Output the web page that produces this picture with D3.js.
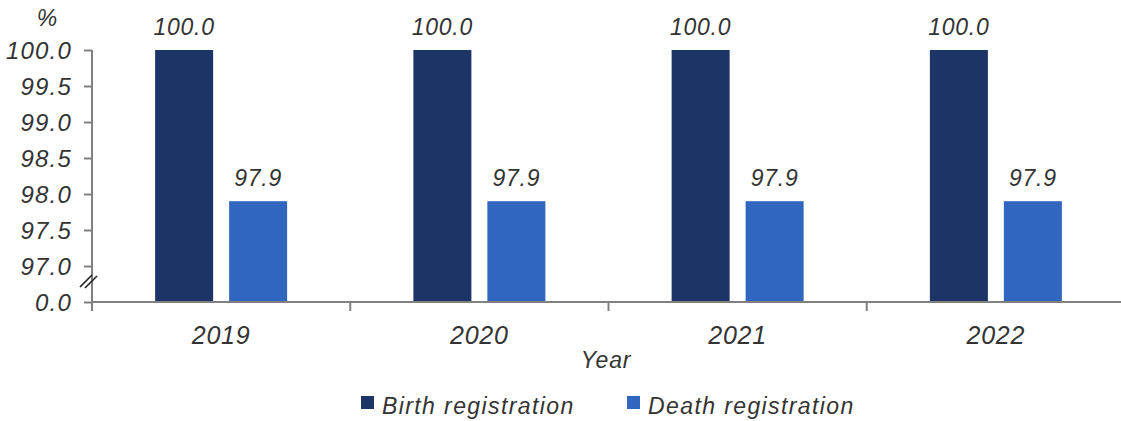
<!DOCTYPE html>
<html>
<head>
<meta charset="utf-8">
<script src="https://cdn.jsdelivr.net/npm/d3@7"></script>
<style>
  html, body { margin: 0; padding: 0; background: #fff; }
  svg text { font-family: "Liberation Sans", Arial, sans-serif; font-style: italic; fill: #333; }
</style>
</head>
<body>
<svg id="chart" width="1121" height="421"></svg>
<script>
const years = ["2019", "2020", "2021", "2022"];
const seriesNames = ["Birth registration", "Death registration"];
const birthValues = [100.0, 100.0, 100.0, 100.0];
const deathValues = [97.9, 97.9, 97.9, 97.9];
const yTickValues = [0, 97.0, 97.5, 98.0, 98.5, 99.0, 99.5, 100.0];
const colors = ["#1d3566", "#3066c0"];

const svg = d3.select("#chart");
const axisColor = "#808080";

// broken axis: 0 then 97..100
const y = d3.scaleLinear().domain([0, 97, 100]).range([302, 266, 50]);
const x0 = d3.scaleBand().domain(years).range([92, 1125]).paddingInner(0).paddingOuter(0);
const groupW = 132;
const off = (x0.bandwidth() - groupW) / 2;
const x1 = d3.scaleBand().domain(seriesNames).range([off, off + groupW]).paddingInner(0.216).paddingOuter(0);

const data = years.map((yr, i) => ({
  year: yr,
  values: [
    { name: seriesNames[0], value: birthValues[i], color: colors[0] },
    { name: seriesNames[1], value: deathValues[i], color: colors[1] }
  ]
}));

// bars
const groups = svg.append("g").selectAll("g").data(data).join("g")
  .attr("transform", d => `translate(${x0(d.year)},0)`);
groups.selectAll("rect").data(d => d.values).join("rect")
  .attr("x", d => x1(d.name))
  .attr("width", x1.bandwidth())
  .attr("y", d => y(d.value))
  .attr("height", d => y(0) - y(d.value))
  .attr("fill", d => d.color);

// value labels
groups.selectAll("text.val").data(d => d.values).join("text")
  .attr("class", "val")
  .attr("x", d => x1(d.name) + x1.bandwidth() / 2)
  .attr("y", d => y(d.value) - 15)
  .attr("text-anchor", "middle")
  .style("font-size", "23px")
  .style("letter-spacing", "0.7px")
  .text(d => d.value.toFixed(1));

// y axis
const yAxis = d3.axisLeft(y).tickValues(yTickValues).tickSize(8).tickPadding(12)
  .tickFormat(d3.format(".1f"));
const gy = svg.append("g").attr("transform", "translate(92,0)").call(yAxis);
gy.select(".domain").attr("stroke", axisColor).attr("stroke-width", 2).attr("d", `M0,${y(100)}V${y(0)}`);
gy.selectAll(".tick line").attr("stroke", axisColor).attr("stroke-width", 2);
gy.selectAll(".tick text").attr("fill", "#333").style("font-family", "Liberation Sans, Arial, sans-serif")
  .style("font-style", "italic").style("font-size", "24px").style("letter-spacing", "1.2px").attr("dy", "0.36em");

// break marks
const brk = svg.append("g").attr("stroke", "#222").attr("stroke-width", 1.6);
brk.append("line").attr("x1", 80).attr("y1", 287).attr("x2", 92).attr("y2", 275);
brk.append("line").attr("x1", 85).attr("y1", 288).attr("x2", 97).attr("y2", 276);

// x axis
const gx = svg.append("g").attr("transform", `translate(0,${y(0)})`);
gx.append("line").attr("x1", 92).attr("x2", 1121).attr("y1", 0).attr("y2", 0)
  .attr("stroke", axisColor).attr("stroke-width", 2);
const boundaries = years.map(d => x0(d)).concat([x0(years[years.length - 1]) + x0.step()]);
gx.selectAll("line.tk").data(boundaries).join("line").attr("class", "tk")
  .attr("x1", d => d).attr("x2", d => d).attr("y1", 0).attr("y2", 9)
  .attr("stroke", axisColor).attr("stroke-width", 2);
gx.selectAll("text.cat").data(years).join("text").attr("class", "cat")
  .attr("x", d => x0(d) + x0.bandwidth() / 2)
  .attr("y", 42)
  .attr("text-anchor", "middle")
  .style("font-size", "25px")
  .style("letter-spacing", "0.8px")
  .text(d => d);

// x title
svg.append("text").attr("x", 606).attr("y", 368).attr("text-anchor", "middle")
  .style("font-size", "23px").style("letter-spacing", "0.8px").text("Year");
// y unit
svg.append("text").attr("x", 47).attr("y", 26).attr("text-anchor", "middle")
  .style("font-size", "23px").text("%");

// legend
const legendX = [361, 627];
const lg = svg.append("g").selectAll("g").data(seriesNames).join("g")
  .attr("transform", (d, i) => `translate(${legendX[i]},396)`);
lg.append("rect").attr("width", 13).attr("height", 13).attr("fill", (d, i) => colors[i]);
lg.append("text").attr("x", 21).attr("y", 18)
  .style("font-size", "23px").style("letter-spacing", "1.4px").text(d => d);
</script>
</body>
</html>
